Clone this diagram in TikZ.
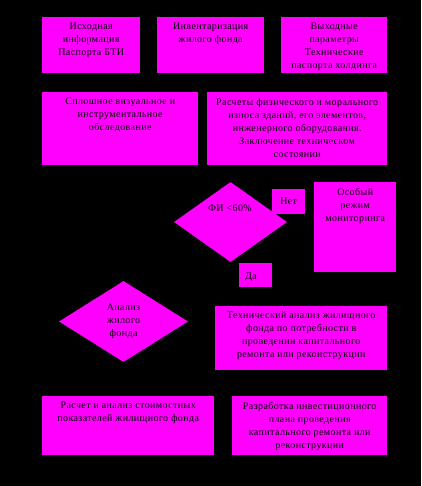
\documentclass[tikz,border=0pt]{standalone}
\usepackage{fontspec}
\setmainfont[LetterSpace=4]{Liberation Serif}
\usetikzlibrary{shapes.geometric}
\definecolor{mag}{HTML}{FF00FF}
\tikzset{
  x=1pt, y=-1pt,
  box/.style={fill=mag, draw=none, inner sep=0pt, anchor=north west},
  dia/.style={diamond, fill=mag, draw=none, inner sep=0pt},
  txt/.style={align=center, font=\fontsize{10}{13}\selectfont, inner sep=0pt, text=black}
}
\begin{document}
\begin{tikzpicture}
\fill[black] (0,0) rectangle (421,486);
\useasboundingbox (0,0) rectangle (421,486);
% row 1
\node[box, minimum width=98pt, minimum height=56pt] (b1) at (42,17) {};
\node[txt, anchor=north] (b1t) at ([yshift=-6pt]b1.north) {Исходная\\информация\\Паспорта БТИ};
\node[box, minimum width=107pt, minimum height=56pt] (b2) at (157,17) {};
\node[txt, anchor=north] (b2t) at ([yshift=-6pt]b2.north) {Инвентаризация\\жилого фонда};
\node[box, minimum width=106pt, minimum height=56pt] (b3) at (281,17) {};
\node[txt, anchor=north] (b3t) at ([yshift=-6pt]b3.north) {Выходные\\параметры\\Технические\\паспорта холдинга};
% row 2
\node[box, minimum width=156pt, minimum height=73pt] (b4) at (42,92) {};
\node[txt, anchor=north] (b4t) at ([yshift=-6pt]b4.north) {Сплошное визуальное и\\инструментальное\\обследование};
\node[box, minimum width=180pt, minimum height=73pt] (b5) at (207,92) {};
\node[txt, anchor=north] (b5t) at ([yshift=-6pt]b5.north) {Расчеты физического и морального\\износа зданий, его элементов,\\инженерного оборудования.\\Заключение техническом\\состоянии};
% decision 1
\node[dia, minimum width=113pt, minimum height=80pt] (d1) at (230.5,222) {};
\node[txt] (d1t) at (230,208) {ФИ <60\%};
\node[box, minimum width=33pt, minimum height=25pt] (no) at (272,189) {};
\node[txt] (not) at (no.center) {Нет};
\node[box, minimum width=82pt, minimum height=90pt] (b6) at (314,182) {};
\node[txt, anchor=north] (b6t) at ([yshift=-6pt]b6.north) {Особый\\режим\\мониторинга};
\node[box, minimum width=33pt, minimum height=24pt] (yes) at (239,263) {};
\node[txt, anchor=west] (yest) at ([xshift=6pt,yshift=-2pt]yes.west) {Да};
% decision 2
\node[dia, minimum width=129pt, minimum height=81pt] (d2) at (123.5,321.5) {};
\node[txt] (d2t) at (d2.center) {Анализ\\жилого\\фонда};
\node[box, minimum width=172pt, minimum height=64pt] (b7) at (215,306) {};
\node[txt, anchor=north] (b7t) at ([yshift=-5pt]b7.north) {Технический анализ жилищного\\фонда по потребности в\\проведении капитального\\ремонта или реконструкции};
% row 4
\node[box, minimum width=172pt, minimum height=59pt] (b8) at (42,396) {};
\node[txt, anchor=north] (b8t) at ([yshift=-6pt]b8.north) {Расчет и анализ стоимостных\\показателей жилищного фонда};
\node[box, minimum width=155pt, minimum height=59pt] (b9) at (232,396) {};
\node[txt, anchor=north] (b9t) at ([yshift=-6pt]b9.north) {Разработка инвестиционного\\плана проведения\\капитального ремонта или\\реконструкции};
\end{tikzpicture}
\end{document}
